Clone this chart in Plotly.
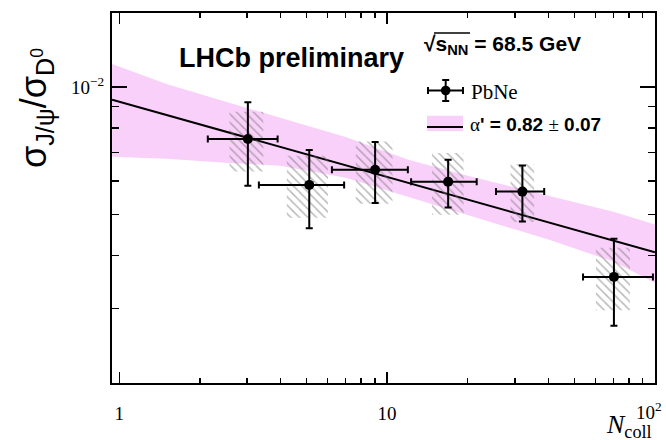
import math
import plotly.graph_objects as go

# ---------------- data ----------------
ncoll = [3.02, 5.12, 9.02, 16.9, 32.0, 70.3]
ncoll_lo = [2.14, 3.32, 6.22, 12.29, 25.5, 53.9]
ncoll_hi = [3.90, 6.91, 11.95, 21.6, 38.6, 98.3]
ratio = [0.00753, 0.00587, 0.00637, 0.00597, 0.00566, 0.00356]
stat_lo = [0.00584, 0.00464, 0.00532, 0.00519, 0.00481, 0.00273]
stat_hi = [0.00920, 0.00710, 0.00741, 0.00673, 0.00652, 0.00438]
sys_lo = [0.00631, 0.00491, 0.00530, 0.00499, 0.00480, 0.00297]
sys_hi = [0.00874, 0.00688, 0.00743, 0.00698, 0.00658, 0.00417]
box_x_lo = [2.58, 4.22, 7.64, 14.7, 28.9, 60.2]
box_x_hi = [3.45, 6.01, 10.47, 19.3, 35.4, 80.7]

fit_x = [0.94, 100]
fit_y = [0.00933, 0.00407]

band_x = [0.94, 1.5, 2.5, 4, 7, 12, 20, 40, 70, 100]
band_hi = [0.01133, 0.01016, 0.00922, 0.00845, 0.00762, 0.00673, 0.00617, 0.00553, 0.00507, 0.00473]
band_lo = [0.00684, 0.00677, 0.00662, 0.00651, 0.00610, 0.00550, 0.00499, 0.00436, 0.00387, 0.00345]

x_tickvals = [1, 10, 100]
x_ticktext = ["1", "10", ""]
x_last_label = "10<sup>2</sup>"
x_minor = [2, 3, 4, 5, 6, 7, 8, 9, 20, 30, 40, 50, 60, 70, 80, 90]
y_tickvals = [0.01]
y_ticktext = ["10<sup>\u22122</sup>"]
y_minor = [0.002, 0.003, 0.004, 0.005, 0.006, 0.007, 0.008, 0.009]

# ---------------- figure ----------------
W, H = 666, 440
ML, MR, MT, MB = 112, 11, 13, 57
PW, PH = W - ML - MR, H - MT - MB

def px(x):
    return (x - ML) / PW

def py(y):
    return (H - MB - y) / PH

BAND = "#f9d0f9"
SERIF = "Liberation Serif"
SANS = "Liberation Sans"

fig = go.Figure()

fig.add_trace(go.Scatter(x=band_x, y=band_lo, mode="lines", line=dict(width=0),
                         hoverinfo="skip", showlegend=False))
fig.add_trace(go.Scatter(x=band_x, y=band_hi, mode="lines", line=dict(width=0),
                         fill="tonexty", fillcolor=BAND, hoverinfo="skip", showlegend=False))
fig.add_trace(go.Scatter(x=fit_x, y=fit_y, mode="lines", line=dict(color="black", width=2),
                         showlegend=False))

bx, by = [], []
for x0, x1, y0, y1 in zip(box_x_lo, box_x_hi, sys_lo, sys_hi):
    bx += [x0, x1, x1, x0, x0, None]
    by += [y0, y0, y1, y1, y0, None]
fig.add_trace(go.Scatter(x=bx, y=by, mode="none", fill="toself",
                         fillcolor="rgba(0,0,0,0)",
                         fillpattern=dict(shape="\\", fgcolor="#707070", bgcolor="rgba(0,0,0,0)",
                                          size=6, solidity=0.25),
                         showlegend=False, hoverinfo="skip"))

fig.add_trace(go.Scatter(
    x=ncoll, y=ratio, mode="markers",
    marker=dict(color="black", size=10),
    error_y=dict(type="data", symmetric=False,
                 array=[h - v for h, v in zip(stat_hi, ratio)],
                 arrayminus=[v - l for l, v in zip(stat_lo, ratio)],
                 color="black", thickness=2, width=3.5),
    error_x=dict(type="data", symmetric=False,
                 array=[h - v for h, v in zip(ncoll_hi, ncoll)],
                 arrayminus=[v - l for l, v in zip(ncoll_lo, ncoll)],
                 color="black", thickness=2, width=3.5),
    showlegend=False))

shapes = []
# legend glyph: PbNe
lx0, lx1, lxc, lyc = 428, 463, 445.7, 90.5
shapes += [
    dict(type="line", xref="paper", yref="paper", x0=px(lx0), x1=px(lx1), y0=py(lyc), y1=py(lyc),
         line=dict(color="black", width=2)),
    dict(type="line", xref="paper", yref="paper", x0=px(lxc), x1=px(lxc), y0=py(80), y1=py(101),
         line=dict(color="black", width=2)),
    dict(type="line", xref="paper", yref="paper", x0=px(lxc - 3.5), x1=px(lxc + 3.5), y0=py(80), y1=py(80),
         line=dict(color="black", width=2)),
    dict(type="line", xref="paper", yref="paper", x0=px(lxc - 3.5), x1=px(lxc + 3.5), y0=py(101), y1=py(101),
         line=dict(color="black", width=2)),
    dict(type="line", xref="paper", yref="paper", x0=px(lx0), x1=px(lx0), y0=py(lyc - 3.5), y1=py(lyc + 3.5),
         line=dict(color="black", width=2)),
    dict(type="line", xref="paper", yref="paper", x0=px(lx1), x1=px(lx1), y0=py(lyc - 3.5), y1=py(lyc + 3.5),
         line=dict(color="black", width=2)),
    dict(type="circle", xref="paper", yref="paper", x0=px(lxc - 4.8), x1=px(lxc + 4.8),
         y0=py(lyc - 4.8), y1=py(lyc + 4.8), fillcolor="black", line=dict(color="black", width=0)),
]
# legend glyph: fit
shapes += [
    dict(type="rect", xref="paper", yref="paper", x0=px(427), x1=px(463), y0=py(131), y1=py(115.7),
         fillcolor=BAND, line=dict(width=0)),
    dict(type="line", xref="paper", yref="paper", x0=px(427), x1=px(463), y0=py(127), y1=py(127),
         line=dict(color="black", width=2)),
]
# overline of the square root
shapes.append(dict(type="line", xref="paper", yref="paper", x0=px(434), x1=px(470), y0=py(33), y1=py(33),
                   line=dict(color="black", width=1.5)))

annotations = [
    dict(text="<b>LHCb preliminary</b>", xref="paper", yref="paper", x=px(291), y=py(58),
         xanchor="center", yanchor="middle", showarrow=False,
         font=dict(family=SANS, size=27, color="black")),
    dict(text="<b>\u221as<sub>NN</sub> = 68.5 GeV</b>", xref="paper", yref="paper", x=px(422), y=py(45),
         xanchor="left", yanchor="middle", showarrow=False,
         font=dict(family=SANS, size=21, color="black")),
    dict(text="PbNe", xref="paper", yref="paper", x=px(469), y=py(92),
         xanchor="left", yanchor="middle", showarrow=False,
         font=dict(family=SERIF, size=21, color="black")),
    dict(text="<span style='font-family:Liberation Serif'>\u03b1</span><b>' = 0.82 </b>"
              "<span style='font-family:Liberation Serif'>\u00b1</span><b> 0.07</b>",
         xref="paper", yref="paper", x=px(468), y=py(124),
         xanchor="left", yanchor="middle", showarrow=False,
         font=dict(family=SANS, size=19, color="black")),
    dict(text="\u03c3<sub>J/\u03c8</sub>/\u03c3<sub>D<sup>0</sup></sub>", xref="paper", yref="paper",
         x=px(36), y=py(108), xanchor="center", yanchor="middle", textangle=-90, showarrow=False,
         font=dict(family=SANS, size=36, color="black")),
    dict(text="<i>N</i><sub>coll</sub>", xref="paper", yref="paper", x=px(654), y=py(426),
         xanchor="right", yanchor="middle", showarrow=False,
         font=dict(family=SERIF, size=26, color="black")),
    dict(text=x_last_label, xref="paper", yref="paper", x=px(664), y=py(411),
         xanchor="right", yanchor="middle", showarrow=False,
         font=dict(family=SERIF, size=19, color="black")),
]

fig.update_layout(
    width=W, height=H,
    margin=dict(l=ML, r=MR, t=MT, b=MB, autoexpand=False),
    paper_bgcolor="white", plot_bgcolor="white",
    shapes=shapes, annotations=annotations,
    showlegend=False,
    xaxis=dict(type="log", range=[math.log10(0.939), 2.0003], automargin=False,
               showline=True, linecolor="black", linewidth=2, mirror="allticks",
               ticks="inside", tickvals=x_tickvals, ticktext=x_ticktext,
               ticklen=11, tickwidth=1.5, tickcolor="black",
               minor=dict(tickmode="array", tickvals=x_minor, ticks="inside", ticklen=5,
                          tickwidth=1.5, tickcolor="black", showgrid=False),
               showgrid=False, zeroline=False, ticklabelstandoff=12,
               tickfont=dict(family=SERIF, size=19, color="black")),
    yaxis=dict(type="log", range=[math.log10(0.002), math.log10(0.01494)], automargin=False,
               showline=True, linecolor="black", linewidth=2, mirror="allticks",
               ticks="inside", tickvals=y_tickvals, ticktext=y_ticktext,
               ticklen=15, tickwidth=1.5, tickcolor="black",
               minor=dict(tickmode="array", tickvals=y_minor, ticks="inside", ticklen=7,
                          tickwidth=1.5, tickcolor="black", showgrid=False),
               showgrid=False, zeroline=False, ticklabelstandoff=2,
               tickfont=dict(family=SERIF, size=19, color="black")),
)

fig.write_html(
    "out.html",
    config={"displayModeBar": False, "staticPlot": True},
    post_script="document.body.style.margin='0';document.body.style.padding='0';"
                "document.documentElement.style.overflow='hidden';",
)
